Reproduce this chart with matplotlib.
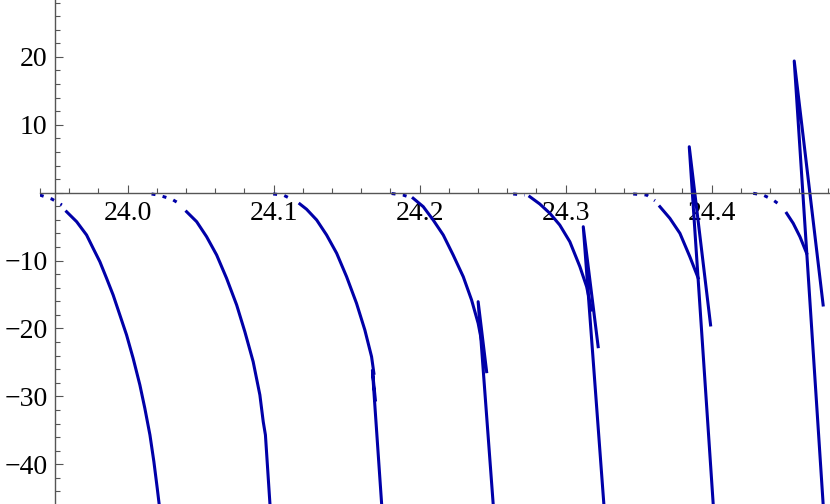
import numpy as np
import matplotlib
matplotlib.use("Agg")
import matplotlib.pyplot as plt
from matplotlib.ticker import MultipleLocator, FuncFormatter

plt.rcParams['font.family'] = ['Liberation Serif', 'DejaVu Serif']

# dotted start of each branch
dot_x = [
    [23.9399, 23.9481, 23.9550],
    [24.0164, 24.0208, 24.0301, 24.0370],
    [24.0997, 24.1066, 24.1134],
    [24.1808, 24.1886, 24.1927],
    [24.2641, 24.2721],
    [24.3463, 24.3555, 24.3612],
    [24.4285, 24.4353, 24.4422, 24.4468],
]
dot_y = [
    [-0.34, -0.93, -1.81],
    [-0.19, -0.34, -0.93, -1.81],
    [-0.19, -0.34, -1.08],
    [-0.12, -0.34, -0.63],
    [-0.19, -0.34],
    [-0.19, -0.34, -1.18],
    [-0.09, -0.34, -1.08, -1.81],
]

# solid part of each branch
curve_x = [
    [23.9582, 23.9651, 23.9719, 23.9764, 23.9810, 23.9856, 23.9901, 23.9947,
     23.9993, 24.0038, 24.0084, 24.0118, 24.0153, 24.0180, 24.0203, 24.0216],
    [24.0404, 24.0473, 24.0541, 24.0610, 24.0678, 24.0747, 24.0803, 24.0860,
     24.0906, 24.0929, 24.0944, 24.0975],
    [24.1180, 24.1226, 24.1295, 24.1363, 24.1432, 24.1500, 24.1568, 24.1625,
     24.1671, 24.1687],
    [24.1956, 24.2025, 24.2093, 24.2162, 24.2230, 24.2299, 24.2356, 24.2401, 24.2432],
    [24.2755, 24.2823, 24.2892, 24.2960, 24.3029, 24.3098, 24.3144, 24.3178],
    [24.3646, 24.3714, 24.3783, 24.3851, 24.3908],
    [24.4514, 24.4559, 24.4605, 24.4651],
]
curve_y = [
    [-2.80, -4.27, -6.23, -8.19, -10.16, -12.61, -15.07, -18.01,
     -20.96, -24.39, -28.31, -31.75, -35.68, -39.62, -43.53, -45.85],
    [-2.80, -4.27, -6.48, -9.18, -12.61, -16.54, -20.47, -24.89,
     -29.79, -33.73, -35.68, -45.85],
    [-1.66, -2.44, -4.02, -6.23, -8.92, -12.37, -16.29, -20.22, -24.15, -26.60],
    [-0.82, -2.06, -4.02, -6.23, -9.18, -12.37, -15.80, -19.23, -22.68],
    [-0.59, -1.66, -3.03, -4.76, -7.22, -10.90, -13.84, -17.28],
    [-2.06, -3.77, -5.98, -9.43, -12.56],
    [-3.03, -4.51, -6.48, -8.92],
]

# spikes on the later branches: end, top, bottom
spike_x = [
    [24.1697, 24.1677, 24.1740],
    [24.2459, 24.2401, 24.2504],
    [24.3223, 24.3121, 24.3262],
    [24.3993, 24.3847, 24.4011],
    [24.4764, 24.4566, 24.4764],
]
spike_y = [
    [-30.53, -26.16, -45.85],
    [-26.36, -16.05, -45.85],
    [-22.68, -5.01, -45.85],
    [-19.48, 6.77, -45.85],
    [-16.54, 19.40, -45.85],
]

color = '#0000a8'
lw = 2.2

fig = plt.figure(figsize=(8.3, 5.04), dpi=100)
ax = fig.add_axes([40 / 830, 0, 790 / 830, 1])

for xs, ys in zip(dot_x, dot_y):
    ax.plot(xs, ys, color=color, lw=lw, dashes=(1.3, 2.4))
for xs, ys in zip(curve_x, curve_y):
    ax.plot(xs, ys, color=color, lw=lw, solid_joinstyle='round')
for xs, ys in zip(spike_x, spike_y):
    ax.plot(xs, ys, color=color, lw=lw, solid_joinstyle='round')

ax.set_xlim(23.94, 24.4811)
ax.set_ylim(-45.85, 28.38)

ax.spines['left'].set_position(('data', 23.95))
ax.spines['bottom'].set_position(('data', 0))
ax.spines['top'].set_visible(False)
ax.spines['right'].set_visible(False)
for s in ['left', 'bottom']:
    ax.spines[s].set_color('#555555')
    ax.spines[s].set_linewidth(1.0)

ax.xaxis.set_major_locator(MultipleLocator(0.1))
ax.xaxis.set_minor_locator(MultipleLocator(0.02))
ax.yaxis.set_major_locator(MultipleLocator(10))
ax.yaxis.set_minor_locator(MultipleLocator(2))
ax.xaxis.set_major_formatter(FuncFormatter(lambda v, p: '%.1f' % v))
ax.yaxis.set_major_formatter(FuncFormatter(
    lambda v, p: '' if abs(v) < 1e-9 else ('%d' % round(v)).replace('-', '\u2212')))

ax.tick_params(which='both', direction='in', color='#555555', width=0.8,
               labelsize=20, labelcolor='black')
ax.tick_params(which='major', length=5.8)
ax.tick_params(which='minor', length=3.6)
ax.tick_params(axis='x', which='major', pad=6)
ax.tick_params(axis='y', which='major', pad=5)

fig.savefig('out.png', dpi=100)
